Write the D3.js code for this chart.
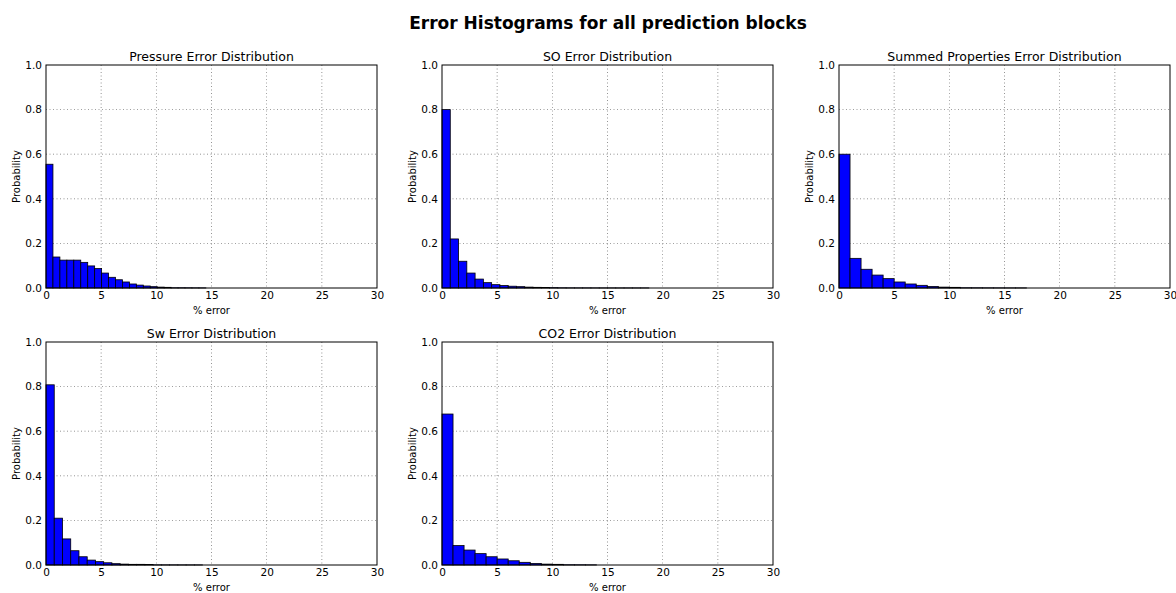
<!DOCTYPE html>
<html>
<head>
<meta charset="utf-8">
<script src="https://cdn.jsdelivr.net/npm/d3@7"></script>
<style>
  body { margin: 0; background: #fff; }
  svg { display: block; font-family: "DejaVu Sans", sans-serif; }
</style>
</head>
<body>
<svg id="chart" width="1176" height="593"></svg>
<script>
// ---- Data (probability per histogram bin, bins start at 0) ----
const panelTitles = ["Pressure Error Distribution", "SO Error Distribution", "Summed Properties Error Distribution", "Sw Error Distribution", "CO2 Error Distribution"];
const binWidths = [0.63, 0.75, 1.0, 0.747, 1.0];
const pressureValues = [0.555, 0.139, 0.125, 0.125, 0.125, 0.115, 0.099, 0.087, 0.067, 0.048, 0.037, 0.027, 0.018, 0.013, 0.009, 0.006, 0.004, 0.003, 0.001, 0.001, 0.0008, 0.0006, 0.0005];
const soValues = [0.80, 0.22, 0.12, 0.067, 0.040, 0.024, 0.015, 0.011, 0.008, 0.006, 0.004, 0.003, 0.002, 0.0015, 0.0008, 0.0006, 0.0005, 0.0005, 0.0004, 0.0004, 0.0004, 0.0003, 0.0003, 0.0003, 0.0003];
const summedValues = [0.60, 0.133, 0.084, 0.058, 0.042, 0.027, 0.018, 0.012, 0.007, 0.004, 0.003, 0.001, 0.0008, 0.0006, 0.0005, 0.0004, 0.0004];
const swValues = [0.808, 0.21, 0.117, 0.064, 0.037, 0.022, 0.015, 0.010, 0.006, 0.004, 0.003, 0.003, 0.002, 0.0006, 0.0005, 0.0005, 0.0004, 0.0004, 0.0004];
const co2Values = [0.677, 0.087, 0.067, 0.051, 0.037, 0.027, 0.019, 0.012, 0.007, 0.004, 0.003, 0.001, 0.0008, 0.0006];
const xTicks = [0, 5, 10, 15, 20, 25, 30];
const yTicks = [0, 0.2, 0.4, 0.6, 0.8, 1.0];
const mainTitle = "Error Histograms for all prediction blocks";
const xLabel = "% error";
const yLabel = "Probability";

const series = [pressureValues, soValues, summedValues, swValues, co2Values];

// ---- Layout ----
const colLeft = [46, 442, 839];
const plotW = 331;
const rowTop = [65, 342];
const plotH = 223;

const svg = d3.select("#chart");

svg.append("text")
  .attr("x", 608).attr("y", 29)
  .attr("text-anchor", "middle")
  .attr("font-size", 17).attr("font-weight", "bold")
  .text(mainTitle);

series.forEach((vals, i) => {
  const col = i % 3, row = Math.floor(i / 3);
  const left = colLeft[col], top = rowTop[row];
  const g = svg.append("g").attr("transform", `translate(${left},${top})`);
  const x = d3.scaleLinear().domain([0, 30]).range([0, plotW]);
  const y = d3.scaleLinear().domain([0, 1]).range([plotH, 0]);
  const bw = binWidths[i];

  // grid
  g.append("g").selectAll("line").data(xTicks.slice(1, -1)).join("line")
    .attr("x1", d => x(d)).attr("x2", d => x(d))
    .attr("y1", 0).attr("y2", plotH)
    .attr("stroke", "#000").attr("stroke-width", 0.6)
    .attr("stroke-dasharray", "1,2.5").attr("opacity", 0.7);
  g.append("g").selectAll("line").data(yTicks.slice(1, -1)).join("line")
    .attr("y1", d => y(d)).attr("y2", d => y(d))
    .attr("x1", 0).attr("x2", plotW)
    .attr("stroke", "#000").attr("stroke-width", 0.6)
    .attr("stroke-dasharray", "1,2.5").attr("opacity", 0.7);

  // bars
  g.append("g").selectAll("rect").data(vals).join("rect")
    .attr("x", (d, k) => x(k * bw))
    .attr("width", (d, k) => x((k + 1) * bw) - x(k * bw))
    .attr("y", d => y(d))
    .attr("height", d => y(0) - y(d))
    .attr("fill", "#0000ff")
    .attr("stroke", "#000").attr("stroke-width", 0.8);

  // frame
  g.append("rect").attr("x", 0).attr("y", 0).attr("width", plotW).attr("height", plotH)
    .attr("fill", "none").attr("stroke", "#000").attr("stroke-width", 1);

  // axes (labels only, no visible tick marks)
  const xa = g.append("g").attr("transform", `translate(0,${plotH})`)
    .call(d3.axisBottom(x).tickValues(xTicks).tickSize(0).tickPadding(4).tickFormat(d3.format("d")));
  xa.select(".domain").remove();
  xa.selectAll("text").attr("font-size", 10.5).attr("fill", "#000").attr("font-family", "DejaVu Sans");

  const ya = g.append("g")
    .call(d3.axisLeft(y).tickValues(yTicks).tickSize(0).tickPadding(4).tickFormat(d3.format(".1f")));
  ya.select(".domain").remove();
  ya.selectAll("text").attr("font-size", 10.5).attr("fill", "#000").attr("font-family", "DejaVu Sans");

  // titles and labels
  g.append("text").attr("x", plotW / 2).attr("y", -4)
    .attr("text-anchor", "middle").attr("font-size", 12.5).text(panelTitles[i]);
  g.append("text").attr("x", plotW / 2).attr("y", plotH + 26)
    .attr("text-anchor", "middle").attr("font-size", 10).text(xLabel);
  g.append("text")
    .attr("transform", `translate(-26,${plotH / 2}) rotate(-90)`)
    .attr("text-anchor", "middle").attr("font-size", 10).text(yLabel);
});
</script>
</body>
</html>
